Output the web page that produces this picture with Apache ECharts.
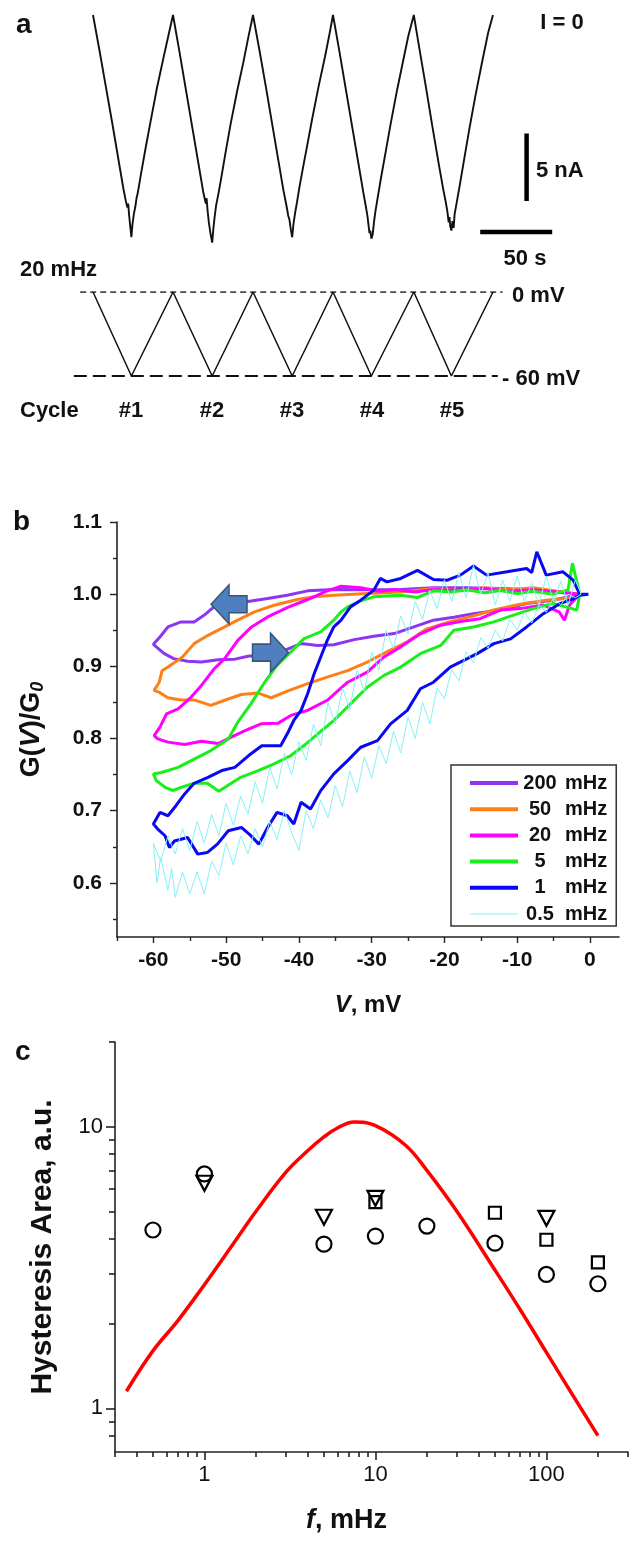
<!DOCTYPE html>
<html><head><meta charset="utf-8">
<script src="https://cdn.jsdelivr.net/npm/echarts@6/dist/echarts.min.js"></script>
<style>html,body{margin:0;padding:0;background:#fff}#c{width:630px;height:1544px}</style>
</head><body><div id="c"></div>
<script>
// ================= DATA =================
// Panel a: current trace at 20 mHz, [time s, current nA] (I = 0 at the top)
const traceA = [[0,0],[4,-2.6],[8,-5.3],[12,-8.0],[16,-10.8],[19,-12.9],[20.5,-13.8],[21.5,-14.3],[22,-14.0],[22.6,-14.9],[23.2,-15.6],[24,-16.5],
[24.6,-15.6],[25.5,-14.8],[26.5,-14.2],[27.2,-13.6],[28,-13.2],[30,-11.8],[33,-9.8],[36,-7.9],[40,-5.4],[44,-3.2],[47,-1.6],[50,0],
[54,-2.7],[58,-5.5],[62,-8.3],[66,-11.1],[69,-13.2],[70.5,-14.0],[71,-13.6],[71.6,-14.5],[72.4,-15.4],[73.4,-16.2],[74.5,-16.9],
[75.2,-15.9],[76,-15.0],[77,-14.1],[78.5,-13.2],[80,-12.2],[83,-10.1],[86,-8.1],[90,-5.7],[94,-3.5],[97,-1.7],[100,0],
[104,-2.6],[108,-5.3],[112,-8.1],[116,-10.9],[119,-13.0],[120.5,-13.9],[121.3,-14.4],[122,-14.9],[122.8,-15.2],[123.6,-15.9],[124.5,-16.5],
[125.3,-15.5],[126.3,-14.7],[127.5,-13.9],[129,-12.8],[131,-11.5],[134,-9.6],[137,-7.7],[141,-5.3],[145,-3.1],[147.5,-1.6],[150,0],
[154,-2.7],[158,-5.5],[162,-8.3],[166,-11.1],[169,-13.2],[170.5,-14.2],[171.5,-14.9],[172.2,-15.6],[172.8,-16.2],[173.3,-16.0],[174,-16.6],
[174.8,-16.3],[175.6,-15.4],[176.5,-14.6],[178,-13.5],[180,-12.1],[183,-10.1],[186,-8.1],[190,-5.6],[194,-3.3],[197,-1.6],[200.5,0],
[204,-2.5],[208,-5.3],[212,-8.2],[216,-11.0],[219,-13.0],[220.5,-13.9],[221.5,-14.6],[222.3,-15.4],[222.8,-15.0],[223.3,-15.7],[224,-16.0],
[224.7,-15.3],[225.4,-15.8],[226,-14.8],[227.5,-13.8],[229,-12.8],[232,-10.7],[235,-8.6],[239,-6.0],[243,-3.6],[247,-1.3],[250,0]];
const scaleBarCurrent = [[271,-8.8],[271,-13.8]];   // 5 nA
const scaleBarTime = [[242,-16.1],[287,-16.1]];     // 50 s
// Voltage protocol, [time s, mV]
const protocolV = [[0,0],[24,-60],[50,0],[74.5,-60],[100,0],[124.5,-60],[150,0],[174,-60],[200.5,0],[224,-60],[250,0]];
const levelTop = [[-8,0],[256,0]];
const levelBottom = [[-12,-60],[253,-60]];
const cycleLabels = ['#1','#2','#3','#4','#5'];

// Panel b: G(V)/G0 loops, [V mV, G/G0]
const loop200 = [[-1.4,1.0],[-7.8,1.006],[-12.3,1.008],[-16.9,1.009],[-21.5,1.009],[-26.0,1.0065],[-30.6,1.006],[-35.2,1.0065],[-38.8,1.0046],[-41.6,0.9986],[-44.3,0.994],[-47.0,0.9898],[-48.9,0.985],[-51.6,0.983],[-53.0,0.971],[-54.4,0.9616],[-56.2,0.9616],[-58.0,0.9546],[-59.1,0.9407],[-60,0.9306],
[-59.6,0.927],[-58.5,0.9176],[-57.2,0.9107],[-55.3,0.907],[-53.4,0.906],[-51.1,0.909],[-48.8,0.91],[-47.0,0.914],[-45.2,0.9157],[-42.5,0.92],[-39.7,0.9315],[-37.4,0.929],[-35.2,0.93],[-32.4,0.937],[-29.7,0.9417],[-26.9,0.9454],[-24.2,0.9546],[-21.5,0.964],[-18.7,0.968],[-16.0,0.973],[-12.3,0.978],[-8.7,0.987],[-5.1,0.9916],[-1.4,0.9995]];
const loop50 = [[-1.4,1.0],[-4.5,1.004],[-7.8,1.009],[-11,1.006],[-14.6,1.009],[-18,1.005],[-21.5,1.008],[-26.0,1.003],[-30.6,1.001],[-35.2,0.9986],[-37.9,0.9963],[-40.2,0.9926],[-43.4,0.9847],[-46.1,0.9755],[-48.9,0.9616],[-50.2,0.9546],[-52.5,0.943],[-54.4,0.9315],[-56.0,0.913],[-58.0,0.899],[-58.8,0.894],[-59.2,0.878],[-59.9,0.8667],
[-59.2,0.864],[-58.0,0.8565],[-56.2,0.8535],[-54.4,0.8535],[-52.1,0.846],[-50.2,0.853],[-47.9,0.861],[-45.6,0.863],[-43.8,0.8565],[-41.5,0.866],[-38.8,0.876],[-36.1,0.885],[-33.3,0.894],[-30.6,0.906],[-27.9,0.92],[-25.1,0.934],[-22.4,0.952],[-19.2,0.962],[-16.0,0.9699],[-13.2,0.978],[-9.6,0.986],[-6.0,0.9916],[-1.4,0.996]];
const loop20 = [[-1.5,1.0],[-4.5,1.003],[-7.8,1.006],[-11,1.004],[-14.6,1.008],[-18,1.005],[-21.5,1.0065],[-24,1.003],[-26.9,1.0065],[-29,1.004],[-31.5,1.009],[-34.2,1.011],[-36.1,1.0046],[-38.8,0.9926],[-41.6,0.9815],[-44.3,0.9685],[-46.5,0.9546],[-48.4,0.936],[-50.2,0.9107],[-51.6,0.897],[-53.4,0.8736],[-54.8,0.8574],[-56.6,0.8412],[-58.2,0.834],[-59.1,0.8157],[-59.9,0.804],
[-59.4,0.7995],[-58.0,0.795],[-55.7,0.7917],[-53.4,0.7963],[-51.1,0.793],[-49.3,0.802],[-47.4,0.811],[-45.2,0.8204],[-42.9,0.821],[-41.1,0.832],[-38.8,0.839],[-36.1,0.853],[-33.3,0.878],[-30.6,0.892],[-28.3,0.913],[-26.0,0.927],[-23.3,0.945],[-20.5,0.957],[-17.8,0.962],[-15.1,0.966],[-12.3,0.978],[-9.6,0.98],[-6.4,0.985],[-4.2,0.975],[-3.5,0.964],[-2.8,0.985],[-1.4,1.0]];
const loop5 = [[-1.4,1.0],[-2.4,1.043],[-3.0,1.006],[-5,1.0],[-7.8,1.004],[-10,1.001],[-12.3,1.005],[-14.5,1.002],[-16.9,1.006],[-19,1.003],[-21.5,1.0046],[-23.7,0.9954],[-26.0,0.9986],[-29.7,0.9963],[-31.5,0.9907],[-33.3,0.9824],[-34.2,0.9755],[-35.2,0.964],[-37.0,0.9477],[-39.3,0.9384],[-41.1,0.92],[-43.0,0.9014],[-44.7,0.878],[-46.6,0.848],[-48.4,0.8227],[-49.7,0.7995],[-52.1,0.7833],[-54.8,0.7694],[-56.6,0.760],[-58.9,0.753],[-60,0.7509],
[-59.6,0.7417],[-58.4,0.7324],[-57.3,0.728],[-56.2,0.7324],[-54.4,0.738],[-52.6,0.738],[-51.0,0.7269],[-49.3,0.738],[-48.0,0.7463],[-45.6,0.7556],[-43.4,0.7648],[-41.1,0.7764],[-39.3,0.7903],[-37.4,0.8065],[-35.2,0.825],[-32.9,0.848],[-30.6,0.871],[-28.3,0.8875],[-26.0,0.899],[-23.3,0.9176],[-20.5,0.929],[-18.7,0.95],[-16.0,0.9546],[-13.2,0.9616],[-10.5,0.971],[-7.8,0.98],[-5.1,0.987],[-3.2,0.982],[-1.8,0.978],[-1.4,1.0]];
const loop1 = [[-0.2,1.0],[-1.4,1.0],[-2.3,1.0194],[-3.7,1.031],[-6.0,1.0264],[-7.3,1.0588],[-8.0,1.03],[-8.7,1.0356],[-11.4,1.031],[-14.2,1.0264],[-16.0,1.039],[-17.8,1.0264],[-19.6,1.0194],[-21.5,1.0204],[-23.7,1.033],[-26.0,1.0218],[-27.9,1.017],[-28.8,1.0218],[-29.7,1.0056],[-31.5,0.9917],[-32.9,0.9824],[-34.2,0.964],[-35.2,0.9546],[-36.1,0.936],[-37.0,0.913],[-37.9,0.8898],[-38.8,0.862],[-39.7,0.839],[-40.7,0.825],[-41.6,0.8065],[-42.5,0.79],[-45.1,0.79],[-46.9,0.7764],[-48.8,0.760],[-50.6,0.7556],[-52.5,0.7463],[-54.4,0.738],[-55.7,0.7232],[-56.9,0.7069],[-58.0,0.693],[-59.1,0.6976],[-60,0.6815],
[-59.4,0.6746],[-58.4,0.6653],[-57.8,0.649],[-57.1,0.658],[-55.3,0.6629],[-53.9,0.6398],[-52.6,0.642],[-51.2,0.6537],[-49.7,0.6722],[-47.9,0.6768],[-46.6,0.6653],[-45.5,0.6537],[-44.3,0.6768],[-43.0,0.6977],[-41.6,0.693],[-40.7,0.6815],[-39.7,0.7116],[-38.4,0.7023],[-37.0,0.7278],[-35.2,0.751],[-33.3,0.7694],[-31.5,0.7879],[-29.2,0.797],[-27.4,0.8204],[-25.1,0.839],[-23.3,0.869],[-21.5,0.878],[-19.2,0.899],[-17.4,0.908],[-15.5,0.9176],[-13.2,0.9315],[-10.9,0.938],[-8.7,0.9546],[-6.4,0.973],[-4.1,0.987],[-2.3,0.9935],[-1.4,0.9986],[-0.2,1.0]];
const loop05 = [[-1.2,1.0],[-2,1.02],[-3,0.985],[-4,1.018],[-5,0.99],[-6,1.025],[-7,0.985],[-8,1.015],[-9,0.99],[-10,1.025],[-11,0.99],[-12,1.02],[-13,0.985],[-14,1.03],[-15,1.0],[-16,1.04],[-17,0.995],[-18,1.03],[-19,0.99],[-20,1.02],[-21,0.98],[-22,1.005],[-23,0.965],[-24,0.99],[-25,0.945],[-26,0.97],[-27,0.925],[-28,0.95],[-29,0.895],[-30,0.92],[-31,0.865],[-32,0.895],[-33,0.84],[-34,0.87],[-35,0.82],[-36,0.85],[-37,0.79],[-38,0.82],[-39,0.77],[-40,0.795],[-41,0.75],[-42,0.78],[-43,0.73],[-44,0.76],[-45,0.71],[-46,0.74],[-47,0.695],[-48,0.72],[-49,0.68],[-50,0.71],[-51,0.665],[-52,0.695],[-53,0.655],[-54,0.685],[-55,0.645],[-56,0.675],[-57,0.64],[-58,0.665],[-59,0.63],[-60,0.655],
[-59.5,0.6],[-59,0.635],[-58,0.59],[-57.5,0.62],[-57,0.58],[-56,0.615],[-55,0.585],[-54,0.615],[-53,0.585],[-52,0.63],[-51,0.61],[-50,0.655],[-49,0.625],[-48,0.665],[-47,0.64],[-46,0.675],[-45,0.65],[-44,0.685],[-43,0.66],[-42,0.7],[-41,0.67],[-40,0.645],[-39,0.7],[-38,0.675],[-37,0.715],[-36,0.69],[-35,0.735],[-34,0.705],[-33,0.755],[-32,0.725],[-31,0.775],[-30,0.745],[-29,0.79],[-28,0.765],[-27,0.81],[-26,0.78],[-25,0.83],[-24,0.8],[-23,0.85],[-22,0.82],[-21,0.87],[-20,0.855],[-19,0.895],[-18,0.88],[-17,0.92],[-16,0.905],[-15,0.94],[-14,0.925],[-13,0.95],[-12,0.935],[-11,0.965],[-10,0.95],[-9,0.975],[-8,0.96],[-7,0.985],[-6,0.975],[-5,0.995],[-4,0.985],[-3,1.0],[-2,0.995],[-1.2,1.0]];
const loopNames = ['200 mHz','50 mHz','20 mHz','5 mHz','1 mHz','0.5 mHz'];
const loops = [loop200, loop50, loop20, loop5, loop1, loop05];
const arrowLeftPos = [[-49.6,0.986]];
const arrowRightPos = [[-43.9,0.919]];
const bTicksX = [-60,-50,-40,-30,-20,-10,0];
const bMinorX = [-65,-55,-45,-35,-25,-15,-5];
const bTicksY = [0.6,0.7,0.8,0.9,1.0,1.1];
const bMinorY = [0.55,0.65,0.75,0.85,0.95,1.05];

// Panel c: hysteresis area vs frequency
const circleF = [0.5,1,5,10,20,50,100,200];
const circleA = [4.3,6.8,3.83,4.09,4.44,3.86,2.99,2.77];
const triF = [1,5,10,100];
const triA = [6.3,4.77,5.57,4.73];
const sqF = [10,50,100,200];
const sqA = [5.4,4.95,3.97,3.30];
const modelF = [0.35,0.5,0.7,1,1.5,2,3,4,5,6,7.5,10,15,20,30,50,70,100,150,200];
const modelA = [1.15,1.6,2.05,2.75,3.9,5.0,6.9,8.2,9.2,9.9,10.4,10.1,8.6,7.0,5.0,3.1,2.25,1.58,1.06,0.80];
const cTicksX = [1,10,100];
const cMinorX = [0.3,0.4,0.5,0.6,0.7,0.8,0.9,2,3,4,5,6,7,8,9,20,30,40,50,60,70,80,90,200,300];
const cTicksY = [1,10];
const cMinorY = [0.8,0.9,2,3,4,5,6,7,8,9,20];

// ================= CHART =================
const FONT = '"Liberation Sans", Arial, Helvetica, sans-serif';
const colors = ['#8c35f2','#ff7f17','#ff00ff','#19ef19','#0808f2','#86f2f7'];
const widths = [3,3,3,3,3,1];
const legendWidths = [4,4,4,4,4,1];
const zip = (a,b) => a.map((v,i)=>[v,b[i]]);
const chart = echarts.init(document.getElementById('c'), null, {renderer:'canvas'});

const axLine = {show:true, onZero:false, lineStyle:{color:'#222', width:1.6}};
const noLine = {show:false, onZero:false};
const hidden = {show:false};
function txt(x,y,t,size,align,extra){
  return {type:'text', x:x, y:y, style:Object.assign({text:t, font:'bold '+size+'px '+FONT, fill:'#111', align:align||'left', verticalAlign:'middle'}, extra||{})};
}
const arrowRight = 'path://M0,11 L19,11 L19,0 L38,19.5 L19,39 L19,28 L0,28 Z';
const arrowLeft = 'path://M38,11 L19,11 L19,0 L0,19.5 L19,39 L19,28 L38,28 Z';

const series = [];
// panel a
series.push({type:'line', xAxisIndex:0, yAxisIndex:0, data:traceA, symbol:'none', lineStyle:{color:'#111', width:1.9}, silent:true});
series.push({type:'line', xAxisIndex:0, yAxisIndex:0, data:scaleBarCurrent, symbol:'none', lineStyle:{color:'#000', width:4.5, cap:'butt'}});
series.push({type:'line', xAxisIndex:0, yAxisIndex:0, data:scaleBarTime, symbol:'none', lineStyle:{color:'#000', width:4.5, cap:'butt'}});
series.push({type:'line', xAxisIndex:1, yAxisIndex:1, data:levelTop, symbol:'none', lineStyle:{color:'#111', width:1.5, type:[6,4]}});
series.push({type:'line', xAxisIndex:1, yAxisIndex:1, data:levelBottom, symbol:'none', lineStyle:{color:'#111', width:2, type:[13,6]}});
series.push({type:'line', xAxisIndex:1, yAxisIndex:1, data:protocolV, symbol:'none', lineStyle:{color:'#111', width:1.5}});
// panel b
loops.forEach((d,i)=>{
  series.push({type:'line', name:loopNames[i], xAxisIndex:2, yAxisIndex:2, data:d, symbol:'none',
    lineStyle:{color:colors[i], width:widths[i]}, itemStyle:{color:colors[i]}, z:2+i});
});
series.push({type:'scatter', xAxisIndex:2, yAxisIndex:2, data:arrowLeftPos, symbol:arrowLeft, symbolSize:[36,39],
  itemStyle:{color:'#4f7fbf', borderColor:'#34557d', borderWidth:1.5, opacity:1}, z:20});
series.push({type:'scatter', xAxisIndex:2, yAxisIndex:2, data:arrowRightPos, symbol:arrowRight, symbolSize:[36,39],
  itemStyle:{color:'#4f7fbf', borderColor:'#34557d', borderWidth:1.5, opacity:1}, z:20});
// panel c
series.push({type:'line', xAxisIndex:4, yAxisIndex:4, data:zip(modelF,modelA), symbol:'none', smooth:0.4,
  lineStyle:{color:'#ff0000', width:3.5}, z:2});
const open = {color:'rgba(0,0,0,0)', borderColor:'#000', borderWidth:2.2, opacity:1};
series.push({type:'scatter', xAxisIndex:4, yAxisIndex:4, data:zip(circleF,circleA), symbol:'circle', symbolSize:15, itemStyle:open, z:5});
series.push({type:'scatter', xAxisIndex:4, yAxisIndex:4, data:zip(triF,triA), symbol:'triangle', symbolRotate:180, symbolSize:[16,15], itemStyle:open, z:5});
series.push({type:'scatter', xAxisIndex:4, yAxisIndex:4, data:zip(sqF,sqA), symbol:'rect', symbolSize:12, itemStyle:open, z:6});

const bLabel = {fontFamily:FONT, fontWeight:'bold', fontSize:21, color:'#111'};
const cLabel = {fontFamily:FONT, fontWeight:'normal', fontSize:22, color:'#111'};

chart.setOption({
  animation:false,
  backgroundColor:'#fff',
  grid:[
    {left:69, top:15, width:504, height:229},
    {left:69, top:292, width:504, height:84},
    {left:117, top:522, width:502, height:415},
    {left:115, top:1042, width:513, height:410}
  ],
  xAxis:[
    {type:'value', gridIndex:0, min:-15, max:300, show:false},
    {type:'value', gridIndex:1, min:-15, max:300, show:false},
    {type:'value', gridIndex:2, min:-65, max:4, axisLine:axLine, splitLine:hidden,
      axisTick:{show:true, customValues:bTicksX, length:6, lineStyle:{color:'#222', width:1.4}},
      axisLabel:{show:true, customValues:bTicksX, margin:13, formatter:v=>String(v), ...bLabel},
      name:'{i|V}{b|, mV}', nameLocation:'middle', nameGap:56,
      nameTextStyle:{rich:{i:{fontFamily:FONT, fontWeight:'bold', fontStyle:'italic', fontSize:24, color:'#111'}, b:{fontFamily:FONT, fontWeight:'bold', fontSize:24, color:'#111'}}}},
    {type:'value', gridIndex:2, min:-65, max:4, position:'bottom', axisLine:noLine, splitLine:hidden,
      axisTick:{show:true, customValues:bMinorX, length:4, lineStyle:{color:'#222', width:1.4}}, axisLabel:{show:false}},
    {type:'log', gridIndex:3, min:0.3, max:300, axisLine:axLine, splitLine:hidden,
      axisTick:{show:true, customValues:cTicksX, length:8, lineStyle:{color:'#222', width:1.6}},
      axisLabel:{show:true, customValues:cTicksX, margin:12, formatter:v=>String(v), ...cLabel},
      name:'{i|f}{b|, mHz}', nameLocation:'middle', nameGap:55,
      nameTextStyle:{padding:[0,50,0,0], rich:{i:{fontFamily:FONT, fontWeight:'bold', fontStyle:'italic', fontSize:27, color:'#111'}, b:{fontFamily:FONT, fontWeight:'bold', fontSize:27, color:'#111'}}}},
    {type:'log', gridIndex:3, min:0.3, max:300, position:'bottom', axisLine:noLine, splitLine:hidden,
      axisTick:{show:true, customValues:cMinorX, length:5, lineStyle:{color:'#222', width:1.6}}, axisLabel:{show:false}}
  ],
  yAxis:[
    {type:'value', gridIndex:0, min:-17, max:0, show:false},
    {type:'value', gridIndex:1, min:-60, max:0, show:false},
    {type:'value', gridIndex:2, min:0.525, max:1.1, position:'left', axisLine:axLine, splitLine:hidden,
      axisTick:{show:true, customValues:bTicksY, length:7, lineStyle:{color:'#222', width:1.4}},
      axisLabel:{show:true, customValues:bTicksY, margin:15, formatter:v=>v.toFixed(1), ...bLabel},
      name:'{b|G(}{i|V}{b|)/G}{s|0}', nameLocation:'middle', nameGap:70, nameRotate:90,
      nameTextStyle:{rich:{
        b:{fontFamily:FONT, fontWeight:'bold', fontSize:27, color:'#111'},
        i:{fontFamily:FONT, fontWeight:'bold', fontStyle:'italic', fontSize:27, color:'#111'},
        s:{fontFamily:FONT, fontWeight:'bold', fontStyle:'italic', fontSize:18, color:'#111', padding:[13,0,0,0]}}}},
    {type:'value', gridIndex:2, min:0.525, max:1.1, position:'left', axisLine:noLine, splitLine:hidden,
      axisTick:{show:true, customValues:bMinorY, length:4, lineStyle:{color:'#222', width:1.4}}, axisLabel:{show:false}},
    {type:'log', gridIndex:3, min:0.7, max:20, position:'left', axisLine:axLine, splitLine:hidden,
      axisTick:{show:true, customValues:cTicksY, length:9, lineStyle:{color:'#222', width:1.6}},
      axisLabel:{show:true, customValues:cTicksY, margin:12, formatter:v=>String(v), ...cLabel},
      name:'Hysteresis Area, a.u.', nameLocation:'middle', nameGap:57, nameRotate:90,
      nameTextStyle:{fontFamily:FONT, fontWeight:'bold', fontSize:30, color:'#111'}},
    {type:'log', gridIndex:3, min:0.7, max:20, position:'left', axisLine:noLine, splitLine:hidden,
      axisTick:{show:true, customValues:cMinorY, length:6, lineStyle:{color:'#222', width:1.6}}, axisLabel:{show:false}}
  ],
  legend:{
    data:loopNames.map((n,i)=>({name:n, lineStyle:{width:legendWidths[i], color:colors[i]}})),
    orient:'vertical', left:451, top:765, padding:[8,9,2,17], itemGap:6.2,
    itemWidth:48, itemHeight:20, borderColor:'#333', borderWidth:1.5, backgroundColor:'#fff', borderRadius:0,
    itemStyle:{opacity:0, borderWidth:0},
    formatter:function(name){ const p=name.split(' '); return '{n|'+p[0]+'}{u|'+p[1]+'}'; },
    textStyle:{fontFamily:FONT, fontWeight:'bold', fontSize:20, color:'#111',
      rich:{n:{width:34, align:'right', fontFamily:FONT, fontWeight:'bold', fontSize:20, color:'#111'},
            u:{fontFamily:FONT, fontWeight:'bold', fontSize:20, color:'#111', padding:[0,0,0,8]}}}
  },
  graphic:[
    txt(16,25,'a',28), txt(13,522,'b',28), txt(15,1052,'c',28),
    txt(562,23,'I = 0',22,'center'),
    txt(536,171,'5 nA',22),
    txt(525,259,'50 s',22,'center'),
    txt(20,270,'20 mHz',22),
    txt(512,296,'0 mV',22),
    txt(502,379,'- 60 mV',22),
    txt(20,411,'Cycle',22),
    txt(131,411,cycleLabels[0],22,'center'), txt(212,411,cycleLabels[1],22,'center'), txt(292,411,cycleLabels[2],22,'center'),
    txt(372,411,cycleLabels[3],22,'center'), txt(452,411,cycleLabels[4],22,'center')
  ],
  series:series
});
</script></body></html>
